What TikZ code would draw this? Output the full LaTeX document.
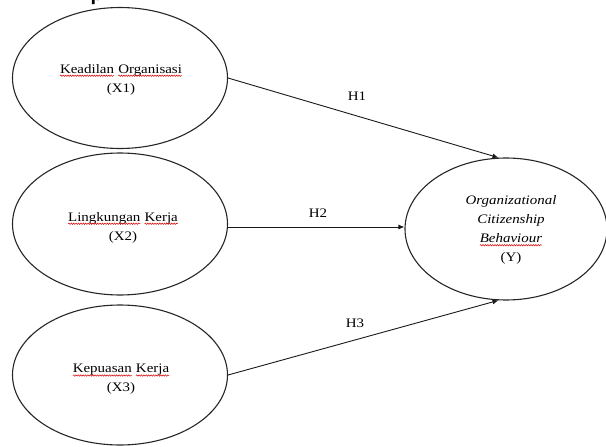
\documentclass[tikz,border=0pt]{standalone}
\usepackage{fontspec}
\setmainfont[FakeStretch=1.15]{Liberation Serif}
\newfontfamily\headfont{Liberation Sans}
\usetikzlibrary{shapes.geometric,arrows.meta,decorations.pathmorphing}
\newcommand\spellwave[1]{\tikz[baseline=(sw.base)]{\node[inner sep=0pt,outer sep=0pt] (sw) {#1};
  \draw[red!85!black,line width=0.5pt,decorate,decoration={snake,amplitude=0.7pt,segment length=2.4pt}] ([yshift=-2.6pt]sw.base west) -- ([yshift=-2.6pt]sw.base east);}}
\begin{document}
\begin{tikzpicture}[x=1pt,y=-1pt,
  ell/.style={draw=black!85,line width=1.1pt,ellipse,inner sep=0pt},
  lbl/.style={font=\fontsize{13}{19}\selectfont,align=center,inner sep=0pt},
  arr/.style={draw=black!90,line width=0.9pt,-{Latex[length=6pt,width=5pt]}},
  hyp/.style={font=\fontsize{13}{15}\selectfont,inner sep=0pt}]
\useasboundingbox (0,0) rectangle (606,447);
\node[font=\headfont\bfseries\fontsize{20}{24}\selectfont,inner sep=0pt,anchor=base west] (hd) at (90.5,0.5) {p};
\node[ell,minimum width=215pt,minimum height=141pt] (e1) at (120,78) {};
\node[ell,minimum width=215pt,minimum height=142pt] (e2) at (120,224) {};
\node[ell,minimum width=215pt,minimum height=140pt] (e3) at (120,375) {};
\node[ell,minimum width=202pt,minimum height=142pt] (e4) at (506,229) {};
\node[lbl] (t1) at (121,79.5) {\spellwave{Keadilan} \spellwave{Organisasi}\\(X1)};
\node[lbl] (t2) at (123,227.5) {\spellwave{Lingkungan} \spellwave{Kerja}\\(X2)};
\node[lbl] (t3) at (121,379.5) {\spellwave{Kepuasan} \spellwave{Kerja}\\(X3)};
\node[lbl] (t4) at (511,230) {\textit{Organizational}\\\textit{Citizenship}\\\textit{\spellwave{Behaviour}}\\(Y)};
\coordinate (h2s) at ([yshift=-3pt]e2.east);
\draw[arr] (e1.east) -- (e4.96);
\draw[arr] (h2s) -- (h2s -| e4.west);
\draw[arr] (e3.east) -- (e4.-96);
\node[hyp] (h1) at (357,96) {H1};
\node[hyp] (h2) at (318,213) {H2};
\node[hyp] (h3) at (355,323.5) {H3};
\end{tikzpicture}
\end{document}
